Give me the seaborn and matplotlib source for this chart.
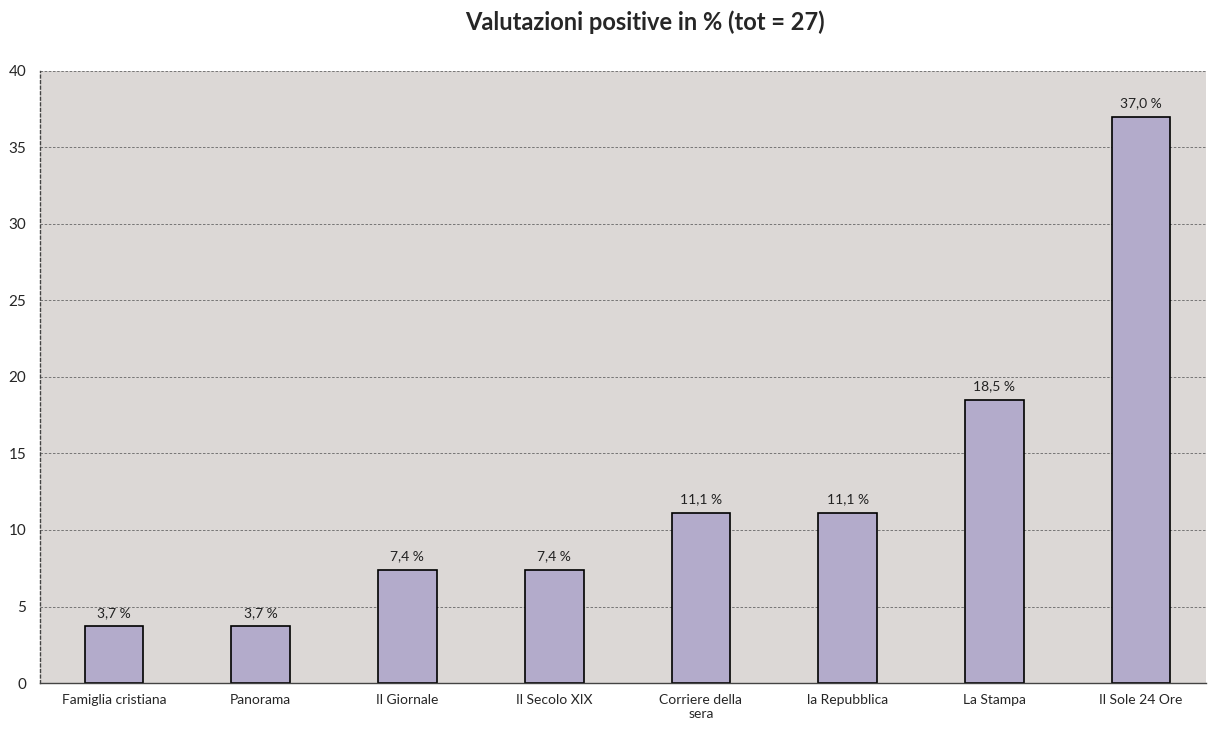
import pandas as pd
import matplotlib
matplotlib.use("Agg")
import matplotlib.pyplot as plt
import seaborn as sns
from matplotlib.ticker import FixedLocator

# Data
testate = [
    "Famiglia cristiana",
    "Panorama",
    "Il Giornale",
    "Il Secolo XIX",
    "Corriere della\nsera",
    "la Repubblica",
    "La Stampa",
    "Il Sole 24 Ore",
]
percentuali = [3.7, 3.7, 7.4, 7.4, 11.1, 11.1, 18.5, 37.0]
y_ticks = [0, 5, 10, 15, 20, 25, 30, 35, 40]

BAR_COLOR = "#b3abcb"
BG_COLOR = "#dcd8d6"

sns.set_style("white")
plt.rcParams["font.family"] = ["Lato", "DejaVu Sans"]

df = pd.DataFrame({"testata": testate, "pct": percentuali})

fig = plt.figure(figsize=(12.08, 7.33), dpi=100)
ax = fig.add_axes([0.0331, 0.0682, 0.965, 0.835])

sns.barplot(
    data=df,
    x="testata",
    y="pct",
    ax=ax,
    color=BAR_COLOR,
    saturation=1,
    width=0.4,
    edgecolor="black",
    linewidth=1.2,
)

ax.set_facecolor(BG_COLOR)
# plot area in the original is a bit wider on the right
ax.set_xlim(-0.504, len(testate) - 0.56)
ax.set_ylim(0, 40)
ax.set_yticks(y_ticks)
ax.set_xlabel("")
ax.set_ylabel("")

# dashed horizontal gridlines
ax.grid(True, axis="y", linestyle=(0, (3, 2)), color="#666666", linewidth=0.6)
ax.set_axisbelow(True)

for side in ["top", "right"]:
    ax.spines[side].set_visible(False)
ax.spines["left"].set_linestyle((0, (2, 2)))
ax.spines["left"].set_color("#444444")
ax.spines["bottom"].set_color("#444444")
ax.spines["left"].set_linewidth(1.0)
ax.spines["bottom"].set_linewidth(1.0)

ax.tick_params(axis="y", length=4, color="#444444", labelsize=11, pad=6)
ax.tick_params(axis="x", length=0, labelsize=10, pad=8)
ax.xaxis.set_minor_locator(FixedLocator([i + 0.5 for i in range(len(testate) - 1)]))
ax.tick_params(axis="x", which="minor", length=4, color="#444444")

for i, v in enumerate(percentuali):
    ax.text(i, v + 0.5, f"{v:.1f} %".replace(".", ","), ha="center", va="bottom",
            fontsize=10, color="#222222")

fig.text(0.534, 0.97, "Valutazioni positive in % (tot = 27)", ha="center", va="center",
         fontsize=17, fontweight="bold")

fig.savefig("out.png", dpi=100)
